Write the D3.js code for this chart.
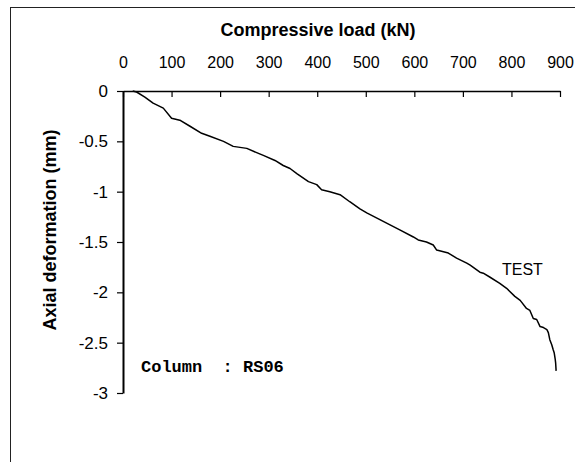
<!DOCTYPE html>
<html>
<head>
<meta charset="utf-8">
<script src="https://cdn.jsdelivr.net/npm/d3@7"></script>
<style>
  html, body { margin: 0; padding: 0; background: #fff; }
  svg { display: block; }
  text { font-family: "Liberation Sans", Arial, sans-serif; fill: #000; }
</style>
</head>
<body>
<svg id="chart" width="575" height="462"></svg>
<script>
// ---- data ----
const loadKN = [20, 28, 45, 62, 83, 100, 117, 138, 162, 179, 207, 227, 255, 279, 289, 313, 330, 344, 358, 382, 399, 409, 426, 447, 467, 488, 502, 526, 550, 570, 598, 608, 625, 639, 646, 670, 687, 708, 715, 735, 742, 756, 776, 790, 807, 818, 831, 838, 845, 852, 859, 866, 873, 876, 879, 883, 886, 888, 890, 891, 892];
const deformMM = [0, -0.01, -0.06, -0.12, -0.17, -0.27, -0.29, -0.35, -0.42, -0.45, -0.50, -0.55, -0.57, -0.62, -0.64, -0.69, -0.74, -0.77, -0.82, -0.90, -0.93, -0.98, -1.00, -1.03, -1.10, -1.17, -1.21, -1.27, -1.33, -1.38, -1.45, -1.48, -1.50, -1.53, -1.58, -1.61, -1.66, -1.71, -1.73, -1.80, -1.81, -1.85, -1.91, -1.96, -2.04, -2.08, -2.16, -2.18, -2.26, -2.27, -2.34, -2.35, -2.37, -2.40, -2.47, -2.52, -2.57, -2.60, -2.66, -2.70, -2.78];
const xTicks = [0, 100, 200, 300, 400, 500, 600, 700, 800, 900];
const yTicks = [0, -0.5, -1, -1.5, -2, -2.5, -3];
const xTitle = "Compressive load (kN)";
const yTitle = "Axial deformation (mm)";
const seriesLabel = "TEST";
const noteLabel = "Column  : RS06";

// ---- layout ----
const svg = d3.select("#chart");
const plot = { left: 123, right: 560, top: 91, bottom: 393 };

const x = d3.scaleLinear().domain([0, 900]).range([plot.left, plot.right]);
const y = d3.scaleLinear().domain([0, -3]).range([plot.top, plot.bottom]);

// outer frame (extends past the window edges as in the reference)
svg.append("rect")
  .attr("x", 10.5).attr("y", 7.5)
  .attr("width", 600).attr("height", 500)
  .attr("fill", "none").attr("stroke", "#222").attr("stroke-width", 1);

// x axis on top, ticks pointing down into the plot
const xAxis = d3.axisTop(x)
  .tickValues(xTicks)
  .tickFormat(d => String(d))
  .tickSizeInner(-6)
  .tickSizeOuter(0)
  .tickPadding(23);
const gx = svg.append("g").attr("transform", `translate(0,${plot.top})`).call(xAxis);
gx.select(".domain").attr("stroke", "#000").attr("stroke-width", 1.5);
gx.selectAll(".tick line").attr("stroke", "#000").attr("stroke-width", 1.2);
gx.selectAll(".tick text")
  .style("font-family", '"Liberation Sans", Arial, sans-serif')
  .style("font-size", "16px");

// y axis (plain hyphen minus signs as in the reference)
const yAxis = d3.axisLeft(y)
  .tickValues(yTicks)
  .tickFormat(d => String(d))
  .tickSizeInner(6)
  .tickSizeOuter(0)
  .tickPadding(9);
const gy = svg.append("g").attr("transform", `translate(${plot.left},0)`).call(yAxis);
gy.select(".domain").attr("stroke", "#000").attr("stroke-width", 2);
gy.selectAll(".tick line").attr("stroke", "#000").attr("stroke-width", 1.2);
gy.selectAll(".tick text")
  .style("font-family", '"Liberation Sans", Arial, sans-serif')
  .style("font-size", "17px");

// axis titles
svg.append("text")
  .attr("x", 318).attr("y", 36)
  .attr("text-anchor", "middle")
  .style("font-size", "18px").style("font-weight", "bold")
  .text(xTitle);

svg.append("text")
  .attr("transform", "translate(56,230) rotate(-90)")
  .attr("text-anchor", "middle")
  .style("font-size", "18px").style("font-weight", "bold")
  .text(yTitle);

// curve
const pts = loadKN.map((v, i) => [v, deformMM[i]]);
svg.append("path")
  .datum(pts)
  .attr("fill", "none")
  .attr("stroke", "#000")
  .attr("stroke-width", 1.5)
  .attr("stroke-linejoin", "round")
  .attr("d", d3.line().x(d => x(d[0])).y(d => y(d[1])));

// labels
svg.append("text")
  .attr("x", 502).attr("y", 275)
  .style("font-size", "16px")
  .text(seriesLabel);

svg.append("text")
  .attr("x", 141).attr("y", 372)
  .style("font-family", '"Liberation Mono", "Courier New", monospace')
  .style("font-size", "17px").style("font-weight", "bold")
  .style("white-space", "pre")
  .attr("xml:space", "preserve")
  .text(noteLabel);
</script>
</body>
</html>
